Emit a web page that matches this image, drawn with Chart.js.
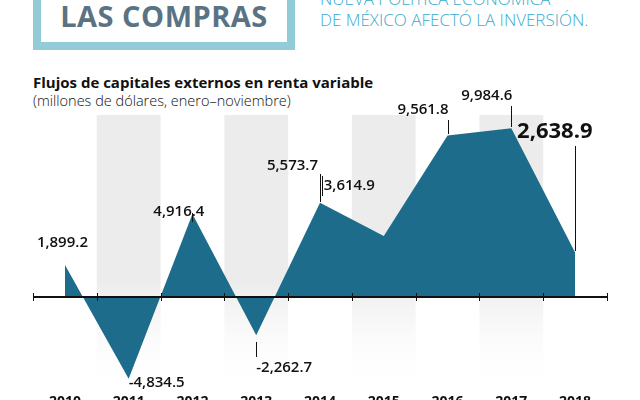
<!DOCTYPE html>
<html><head><meta charset="utf-8">
<script src="https://cdn.jsdelivr.net/npm/chart.js@4"></script>
<style>
html,body{margin:0;padding:0;background:#fff;overflow:hidden}
#wrap{position:relative;width:640px;height:400px;font-family:'Open Sans',sans-serif}
#box{position:absolute;left:33px;top:-20px;width:246px;height:62px;border:8px solid #93cbd7;border-top:none}
#box span{position:absolute;left:0;right:0;top:16px;text-align:center;font:700 29px 'Open Sans',sans-serif;color:#5a7384;letter-spacing:0.5px}
#deck{position:absolute;left:320px;top:-12px;font:300 17px 'Open Sans',sans-serif;color:#3aaccc;line-height:21px;white-space:nowrap}
#t1{position:absolute;left:33px;top:72px;font:700 15px 'Open Sans',sans-serif;color:#111}
#t2{position:absolute;left:33px;top:91px;font:300 14.5px 'Open Sans',sans-serif;color:#111}
canvas{position:absolute;left:0;top:0}
</style></head><body>
<div id="wrap">
<div id="box"><span>LAS COMPRAS</span></div>
<div id="deck">NUEVA POLÍTICA ECONÓMICA<br>DE MÉXICO AFECTÓ LA INVERSIÓN.</div>
<div id="t1">Flujos de capitales externos en renta variable</div>
<div id="t2">(millones de dólares, enero–noviembre)</div>
<canvas id="c" width="640" height="400"></canvas>
</div>
<script>
const years = ['2010','2011','2012','2013','2014','2015','2016','2017','2018'];
const flows = [1899.2, -4834.5, 4916.4, -2262.7, 5573.7, 3614.9, 9561.8, 9984.6, 2638.9];
const valueLabels = ['1,899.2','-4,834.5','4,916.4','-2,262.7','5,573.7','3,614.9','9,561.8','9,984.6','2,638.9'];

// dónde va cada etiqueta respecto a su punto
const LABEL_POS = [
  { dx: -28, y: 243, align: 'left' },
  { dx: 0, y: 383, align: 'left' },
  { dx: 12, y: 212, align: 'right', lx: 0, l1: 222, l2: 213 },
  { dx: 0, y: 368, align: 'left', lx: 0, l1: 342, l2: 357 },
  { dx: -2, y: 166, align: 'right', lx: 0, l1: 174, l2: 202 },
  { dx: -60, y: 186, align: 'left', lx: -62, l1: 176, l2: 196 },
  { dx: 1, y: 110, align: 'right', lx: 0, l1: 120, l2: 134 },
  { dx: 1, y: 96, align: 'right', lx: 0, l1: 106, l2: 127 },
  { dx: -58, y: 132, align: 'left', lx: 0, l1: 146, l2: 251, big: true }
];

const Decor = {
  id: 'Decor',
  beforeDatasetsDraw(chart) {
    const { ctx, chartArea, scales } = chart;
    const w = (chartArea.right - chartArea.left) / years.length;
    ctx.save();
    years.forEach((y, i) => {
      if (i % 2 === 1) {
        const x0 = scales.x.getPixelForValue(i) - w / 2;
        const g = ctx.createLinearGradient(0, 115, 0, 392);
        g.addColorStop(0, 'rgba(236,236,236,1)');
        g.addColorStop(0.6, 'rgba(236,236,236,1)');
        g.addColorStop(1, 'rgba(255,255,255,0)');
        ctx.fillStyle = g;
        ctx.fillRect(x0, 115, w, 277);
      }
    });
    ctx.restore();
  },
  afterDatasetsDraw(chart) {
    const { ctx, chartArea, scales } = chart;
    const w = (chartArea.right - chartArea.left) / years.length;
    const y0 = scales.y.getPixelForValue(0);
    ctx.save();
    ctx.strokeStyle = '#111'; ctx.lineWidth = 2;
    ctx.beginPath(); ctx.moveTo(chartArea.left, y0); ctx.lineTo(chartArea.right, y0); ctx.stroke();
    ctx.lineWidth = 1;
    for (let i = 0; i <= years.length; i++) {
      const x = Math.round(chartArea.left + i * w) + 0.5;
      ctx.beginPath(); ctx.moveTo(x, y0 - 4); ctx.lineTo(x, y0 + 4); ctx.stroke();
    }
    ctx.fillStyle = '#111';
    ctx.textBaseline = 'middle';
    flows.forEach((v, i) => {
      const px = scales.x.getPixelForValue(i);
      const p = LABEL_POS[i];
      ctx.font = p.big ? '700 22px "Open Sans", sans-serif' : '600 15px "Open Sans", sans-serif';
      ctx.textAlign = p.align;
      ctx.fillText(valueLabels[i], px + p.dx, p.y);
      if (p.l1) {
        const lx = Math.round(px + p.lx) + 0.5;
        ctx.beginPath(); ctx.moveTo(lx, p.l1); ctx.lineTo(lx, p.l2); ctx.stroke();
      }
    });
    ctx.font = '700 14px "Open Sans", sans-serif';
    ctx.textAlign = 'center'; ctx.textBaseline = 'top';
    years.forEach((y, i) => ctx.fillText(y, scales.x.getPixelForValue(i), 395));
    ctx.restore();
  }
};

new Chart(document.getElementById('c'), {
  type: 'line',
  data: {
    labels: years,
    datasets: [{
      data: flows,
      fill: 'origin',
      backgroundColor: '#1e6c8b',
      borderColor: '#1e6c8b',
      borderWidth: 0,
      pointRadius: 0,
      tension: 0
    }]
  },
  options: {
    responsive: false,
    animation: false,
    layout: { padding: { left: 33, right: 33, top: 115, bottom: 10 } },
    plugins: { legend: { display: false }, tooltip: { enabled: false } },
    scales: {
      x: { display: false, offset: true },
      y: { display: false, min: -5503, max: 10770 }
    }
  },
  plugins: [Decor]
});
</script>
</body></html>
